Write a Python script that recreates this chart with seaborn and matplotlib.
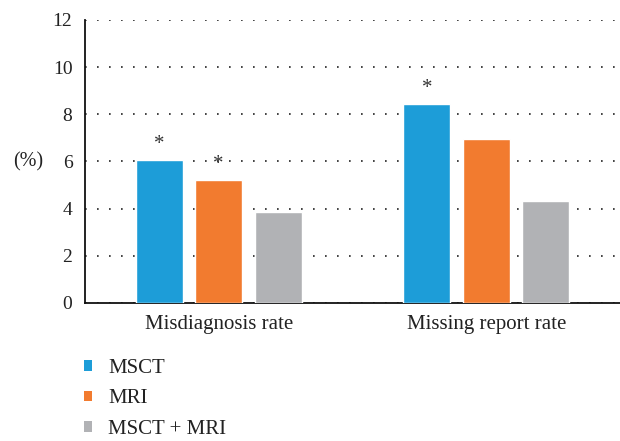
import matplotlib
matplotlib.use("Agg")
import matplotlib.pyplot as plt
import seaborn as sns
import pandas as pd
from matplotlib.patches import Patch

categories = ["Misdiagnosis rate", "Missing report rate"]
methods = ["MSCT", "MRI", "MSCT + MRI"]
msct = [6.07, 8.44]
mri = [5.22, 6.95]
combined = [3.86, 4.33]
significant = {"MSCT": [True, True], "MRI": [True, False], "MSCT + MRI": [False, False]}
yticks = [0, 2, 4, 6, 8, 10, 12]

palette = {"MSCT": "#1d9dd8", "MRI": "#f27b2f", "MSCT + MRI": "#b1b2b5"}

df = pd.DataFrame({
    "category": categories * 3,
    "method": [m for m in methods for _ in categories],
    "value": msct + mri + combined,
})

sns.set_theme(style="white")
plt.rcParams["font.family"] = ["Liberation Serif", "DejaVu Serif"]

fig = plt.figure(figsize=(6.2, 4.41), dpi=100)
ax = fig.add_axes([0.137, 0.313, 0.863, 0.642])

sns.barplot(data=df, x="category", y="value", hue="method", order=categories,
            hue_order=methods, palette=palette, width=0.667, gap=0.21,
            saturation=1, legend=False, ax=ax, zorder=3)

# significance markers above the bars
for container, method in zip(ax.containers, methods):
    for bar, flag in zip(container, significant[method]):
        if flag:
            ax.text(bar.get_x() + bar.get_width() / 2, bar.get_height() + 0.25, "*",
                    ha="center", va="bottom", fontsize=15, color="#333333")

ax.set_ylim(0, 12)
ax.set_xlim(-0.5, 1.5)
ax.set_yticks(yticks)
ax.set_yticklabels([str(t) for t in yticks])
ax.yaxis.grid(True, color="#222222", linestyle=(0, (1, 6.2)), linewidth=1.2, zorder=0)
ax.xaxis.grid(False)
ax.set_axisbelow(True)
ax.tick_params(axis="both", length=0, colors="#222222")
ax.tick_params(axis="y", pad=9, labelsize=14)
ax.tick_params(axis="x", pad=9, labelsize=15)
ax.set_xlabel("")
ax.set_ylabel("(%)", rotation=0, fontsize=14.5, color="#222222", labelpad=18, va="center")
for side in ["top", "right"]:
    ax.spines[side].set_visible(False)
for side in ["left", "bottom"]:
    ax.spines[side].set_color("#111111")
    ax.spines[side].set_linewidth(1.3)

handles = [Patch(facecolor=palette[m], edgecolor="none", label=m) for m in methods]
fig.legend(handles=handles, loc="upper left", bbox_to_anchor=(0.1355, 0.186),
           frameon=False, fontsize=15, handlelength=0.38, handleheight=0.38,
           handletextpad=0.77, labelspacing=0.55, borderaxespad=0, borderpad=0,
           labelcolor="#222222")

fig.savefig("out.png", dpi=100)
